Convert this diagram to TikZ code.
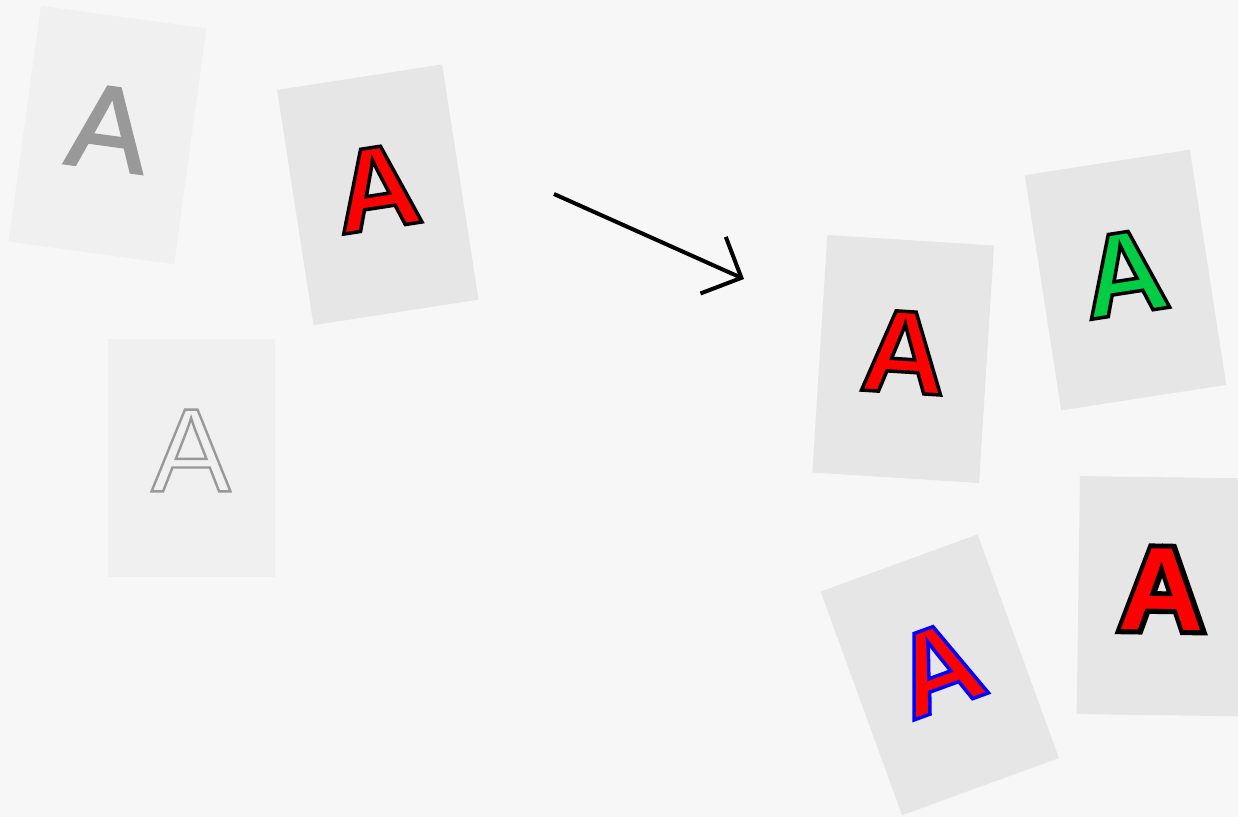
\documentclass[tikz,border=0pt]{standalone}
\usepackage{fontspec}
\setmainfont{Liberation Sans}
\newfontface\glyphbold{Liberation Sans Bold}
\newfontface\glyphregular{Liberation Sans}
\usetikzlibrary{arrows.meta}
\definecolor{bg}{HTML}{F7F7F7}
\definecolor{cardlight}{HTML}{F0F0F0}
\definecolor{carddark}{HTML}{E6E6E6}
\definecolor{lettergray}{HTML}{999999}
\definecolor{lettergreen}{HTML}{00CC44}
\newcommand\Sfx[1]{\special{pdf:literal direct #1}}
% #1 stroke colour (rgb), #2 stroke width, #3 text render mode
\newcommand\strokeA[3]{\Sfx{#1 RG #2 w #3 Tr}A\Sfx{0 Tr}}
\tikzset{
  card/.style={rectangle, minimum width=167pt, minimum height=238pt, inner sep=0pt, draw=none},
  glyph/.style={inner sep=0pt, font=\glyphregular\fontsize{119pt}{119pt}\selectfont},
  boldglyph/.style={inner sep=0pt, font=\glyphbold\fontsize{118pt}{118pt}\selectfont},
  arrowline/.style={line width=4pt, -{Straight Barb[length=31pt,width=62pt]}}
}
\begin{document}
\begin{tikzpicture}[x=1pt,y=-1pt]
\fill[bg] (0,0) rectangle (1238,817);
\useasboundingbox (0,0) rectangle (1238,817);

% left group
\begin{scope}[shift={(107.5,135)}, rotate=-7.8, transform shape]
  \node[card, fill=cardlight] (c1) at (0,0) {};
  \node[glyph, text=lettergray] (a1) at (0,-7) {\strokeA{0.6 0.6 0.6}{2.5}{2}};
\end{scope}
\begin{scope}[shift={(377.8,194.8)}, rotate=8.8, transform shape]
  \node[card, fill=carddark] (c2) at (0,0) {};
  \node[boldglyph, text=red] (a2) at (0,-7) {\strokeA{0 0 0}{3.5}{2}};
\end{scope}
\begin{scope}[shift={(191,457.5)}, transform shape]
  \node[card, fill=cardlight] (c3) at (0,0) {};
  \node[glyph, text=cardlight] (a3) at (0,-7) {\strokeA{0.6 0.6 0.6}{2.4}{1}};
\end{scope}

% arrow
\coordinate (arrowstart) at (554,194);
\coordinate (arrowend) at (744,279);
\draw[arrowline] (arrowstart) -- (arrowend);

% right group
\begin{scope}[shift={(903.2,359)}, rotate=-3.6, transform shape]
  \node[card, fill=carddark] (c4) at (0,0) {};
  \node[boldglyph, text=red] (a4) at (0,-7) {\strokeA{0 0 0}{3.5}{2}};
\end{scope}
\begin{scope}[shift={(1125.5,280)}, rotate=8.8, transform shape]
  \node[card, fill=carddark] (c5) at (0,0) {};
  \node[boldglyph, text=lettergreen] (a5) at (0,-7) {\strokeA{0 0 0}{3.5}{2}};
\end{scope}
\begin{scope}[shift={(939.8,674.8)}, rotate=20, transform shape]
  \node[card, fill=carddark] (c6) at (0,0) {};
  \node[boldglyph, text=red] (a6) at (0,-7) {\strokeA{0 0 1}{3.5}{2}};
\end{scope}
\begin{scope}[shift={(1161.8,596.2)}, rotate=-0.8, transform shape]
  \node[card, fill=carddark] (c7) at (0,0) {};
  \node[boldglyph, text=black] (a7outline) at (0,-7) {\strokeA{0 0 0}{10}{1}};
  \node[boldglyph, text=red] (a7) at (0,-7) {A};
\end{scope}
\end{tikzpicture}
\end{document}
